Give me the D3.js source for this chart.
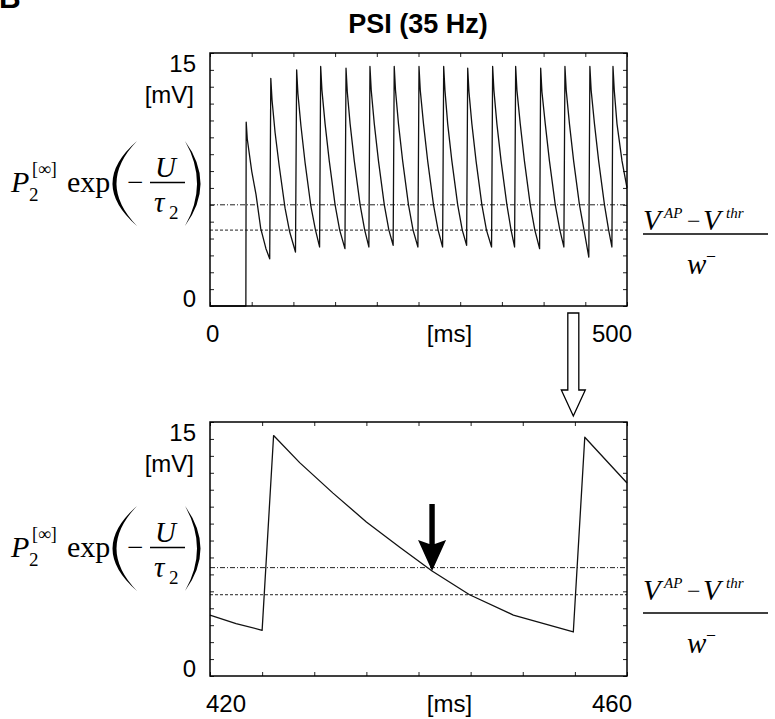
<!DOCTYPE html>
<html>
<head>
<meta charset="utf-8">
<script src="https://cdn.jsdelivr.net/npm/d3@7"></script>
<style>
  body { margin: 0; background: #fff; }
  svg { display: block; }
</style>
</head>
<body>
<svg id="chart"></svg>
<script>
// Membrane trace, top panel (t in ms, value in mV)
const topTrace = [
  [0, 0], [43.0, 0],
  [43.4, 10.9], [44.7, 9.9], [50.0, 8.0], [55.2, 6.6], [60.8, 4.6], [67.1, 3.4], [71.6, 2.8],
  [72.9, 13.5], [74.4, 12.2], [78, 10.3], [83, 8.3], [90, 5.8], [95.5, 4.4], [102.5, 3.2],
  [103.9, 14.0], [105.4, 12.6], [109, 10.7], [114, 8.5], [121, 5.9], [126.5, 4.5], [131.4, 3.5],
  [132.7, 14.2], [134.2, 12.8], [138, 10.8], [143, 8.6], [150, 6.0], [155.5, 4.5], [161.8, 3.4],
  [163.1, 14.1], [164.6, 12.7], [168, 10.8], [173, 8.6], [180, 6.0], [185.5, 4.5], [190.5, 3.5],
  [191.8, 14.2], [193.3, 12.8], [197, 10.8], [202, 8.6], [209, 6.0], [214.5, 4.5], [219.6, 3.6],
  [220.9, 14.2], [222.4, 12.8], [226, 10.8], [231, 8.6], [238, 6.0], [243.5, 4.5], [249.3, 3.5],
  [250.6, 14.2], [252.1, 12.8], [256, 10.8], [261, 8.6], [268, 6.0], [273.5, 4.5], [278.9, 3.5],
  [280.2, 14.2], [281.7, 12.8], [285, 10.8], [290, 8.6], [297, 6.0], [302.5, 4.5], [307.7, 3.6],
  [309.0, 14.1], [310.5, 12.7], [314, 10.8], [319, 8.6], [326, 6.0], [331.5, 4.5], [337.6, 3.5],
  [338.9, 14.2], [340.4, 12.8], [344, 10.8], [349, 8.6], [356, 6.0], [361, 4.5], [365.2, 3.5],
  [366.5, 14.2], [368, 12.8], [372, 10.8], [377, 8.6], [384, 6.0], [389.5, 4.5], [395.2, 3.4],
  [396.5, 14.1], [398, 12.7], [402, 10.8], [407, 8.6], [414, 6.0], [419.5, 4.5], [424.3, 3.5],
  [425.6, 14.2], [427.1, 12.8], [431, 10.8], [436, 8.6], [443, 6.0], [448.5, 4.5], [454.2, 2.9],
  [455.5, 14.2], [457, 12.8], [461, 10.8], [466, 8.6], [473, 6.0], [478, 4.5], [481.9, 3.5],
  [483.2, 14.2], [484.7, 12.8], [488, 10.8], [494, 8.6], [500, 7.0]
];

// Zoomed trace, bottom panel
const bottomTrace = [
  [420, 3.6], [422.5, 3.1], [425.0, 2.7], [426.1, 14.2], [428.6, 12.6], [431.8, 10.8],
  [435.0, 9.1], [438.2, 7.6], [441.3, 6.2], [444.9, 4.8], [449.1, 3.6],
  [454.85, 2.6], [455.95, 14.1], [460, 11.4]
];

// Horizontal reference levels [upper (dash-dot), lower (dashed)]
const topLevels = [6.0, 4.5];
const bottomLevels = [6.4, 4.8];

const topXDomain = [0, 500];
const bottomXDomain = [420, 460];
const yDomain = [0, 15];

const topXLabels = ["0", "[ms]", "500"];
const bottomXLabels = ["420", "[ms]", "460"];
const yLabels = ["15", "[mV]", "0"];

// where the arrows point
const crossingPoint = [441.3, 6.2];   // black arrow, bottom panel
const zoomSpikeTime = 454.85;         // open arrow between panels

const W = 775, H = 719;
const sans = "'Liberation Sans', Arial, Helvetica, sans-serif";
const serif = "'Liberation Serif', 'Times New Roman', serif";

const svg = d3.select("#chart").attr("width", W).attr("height", H);

// panel letter (cut off at the top) and title
svg.append("text").attr("x", -1).attr("y", 8)
  .style("font-family", sans).style("font-weight", "bold").style("font-size", "30px")
  .text("B");
svg.append("text").attr("x", 418).attr("y", 33).attr("text-anchor", "middle")
  .style("font-family", sans).style("font-weight", "bold").style("font-size", "27px")
  .text("PSI (35 Hz)");

function panel(box, xDomain, trace, levels, xLabels) {
  const w = box.x1 - box.x0, h = box.y1 - box.y0;
  const g = svg.append("g").attr("transform", `translate(${box.x0},${box.y0})`);
  const x = d3.scaleLinear().domain(xDomain).range([0, w]);
  const y = d3.scaleLinear().domain(yDomain).range([h, 0]);
  const nx = xDomain[1] - xDomain[0] > 100 ? 10 : 8;

  // inward ticks on all four sides
  const axes = [
    [d3.axisBottom(x).ticks(nx), `translate(0,${h})`],
    [d3.axisTop(x).ticks(nx), null],
    [d3.axisLeft(y).ticks(15), null],
    [d3.axisRight(y).ticks(15), `translate(${w},0)`]
  ];
  axes.forEach(([ax, tr]) => {
    const a = g.append("g").call(ax.tickSize(-4).tickFormat(""));
    if (tr) a.attr("transform", tr);
    a.select(".domain").remove();
    a.selectAll("line").attr("stroke", "#222").attr("stroke-width", 1);
  });

  // reference levels
  const dashes = ["5,2,1,2", "3,2"];
  levels.forEach((v, i) => {
    g.append("line")
      .attr("x1", 0).attr("x2", w)
      .attr("y1", y(v)).attr("y2", y(v))
      .attr("stroke", "#222").attr("stroke-width", 1)
      .attr("stroke-dasharray", dashes[i]);
  });

  const line = d3.line().x(d => x(d[0])).y(d => y(d[1]));
  g.append("path").datum(trace)
    .attr("fill", "none").attr("stroke", "#111")
    .attr("stroke-width", 1.3).attr("stroke-linejoin", "round")
    .attr("d", line);

  g.append("rect").attr("width", w).attr("height", h)
    .attr("fill", "none").attr("stroke", "#000").attr("stroke-width", 1.5);

  // tick labels
  const lab = (tx, ty, anchor, s) => g.append("text")
    .attr("x", tx).attr("y", ty).attr("text-anchor", anchor)
    .style("font-family", sans).style("font-size", "24px").text(s);
  lab(-14, y(15) + 19, "end", yLabels[0]);
  lab(-16, y(15) + 50, "end", yLabels[1]);
  lab(-14, y(0) + 1, "end", yLabels[2]);
  lab(-4, h + 36, "start", xLabels[0]);
  lab(w / 2 + 31, h + 36, "middle", xLabels[1]);
  lab(w + 5, h + 36, "end", xLabels[2]);

  return { x, y, g };
}

function leftMath(dy) {
  const m = svg.append("g").attr("transform", `translate(0,${dy})`)
    .style("font-family", serif);
  m.append("text").attr("x", 11).attr("y", 192).style("font-size", "30px")
    .style("font-style", "italic").text("P");
  m.append("text").attr("x", 29).attr("y", 201).style("font-size", "19px").text("2");
  m.append("text").attr("x", 32).attr("y", 175).style("font-size", "18px").text("[∞]");
  m.append("text").attr("x", 67).attr("y", 192).style("font-size", "30px").text("exp");
  m.append("path").attr("d", "M137,141 Q88,183.5 137,226 Q96,183.5 137,141 Z");
  m.append("path").attr("d", "M185,141 Q216,183.5 185,226 Q209,183.5 185,141 Z");
  m.append("text").attr("x", 127).attr("y", 192).style("font-size", "29px").text("−");
  m.append("line").attr("x1", 150).attr("x2", 185).attr("y1", 182.5).attr("y2", 182.5)
    .attr("stroke", "#000").attr("stroke-width", 1.5);
  m.append("text").attr("x", 155).attr("y", 177).style("font-size", "29px")
    .style("font-style", "italic").text("U");
  m.append("text").attr("x", 154).attr("y", 212).style("font-size", "29px")
    .style("font-style", "italic").text("τ");
  m.append("text").attr("x", 169).attr("y", 219).style("font-size", "19px").text("2");
}

function rightMath(bar, numDy) {
  const m = svg.append("g").style("font-family", serif).style("font-style", "italic");
  const vb = bar - numDy;
  m.append("text").attr("x", 643).attr("y", vb).style("font-size", "29px").text("V");
  m.append("text").attr("x", 664).attr("y", vb - 12).style("font-size", "15px").text("AP");
  m.append("text").attr("x", 687).attr("y", vb - 1).style("font-size", "24px")
    .style("font-style", "normal").text("−");
  m.append("text").attr("x", 703).attr("y", vb).style("font-size", "29px").text("V");
  m.append("text").attr("x", 726).attr("y", vb - 12).style("font-size", "15px").text("thr");
  m.append("line").attr("x1", 643).attr("x2", 768).attr("y1", bar).attr("y2", bar)
    .attr("stroke", "#000").attr("stroke-width", 1.5);
  m.append("text").attr("x", 687).attr("y", bar + 40).style("font-size", "29px").text("w");
  m.append("text").attr("x", 707).attr("y", bar + 26).style("font-size", "16px")
    .style("font-style", "normal").text("–");
}

const topPanel = panel({ x0: 210, x1: 627, y0: 53, y1: 306 }, topXDomain, topTrace, topLevels, topXLabels);
const bottomPanel = panel({ x0: 210, x1: 627, y0: 422, y1: 676 }, bottomXDomain, bottomTrace, bottomLevels, bottomXLabels);

leftMath(0);
leftMath(365);
rightMath(234, 4);
rightMath(613, 13);

// open arrow from top panel down to the zoomed spike
const ax = 210 + bottomPanel.x(zoomSpikeTime);
const aTop = 306 + 7, aBase = 390, aTip = 422 - 6;
svg.append("path")
  .attr("d", `M${ax - 5.5},${aTop} H${ax + 5.5} V${aBase} H${ax + 12} L${ax},${aTip} L${ax - 12},${aBase} H${ax - 5.5} Z`)
  .attr("fill", "#fff").attr("stroke", "#000").attr("stroke-width", 1.3);

// black arrow pointing at the threshold crossing
const bx = 210 + bottomPanel.x(crossingPoint[0]);
const by = 422 + bottomPanel.y(crossingPoint[1]);
svg.append("path")
  .attr("d", `M${bx - 2.7},${by - 67} H${bx + 2.7} V${by - 27} L${bx + 14},${by - 31} L${bx},${by} L${bx - 14},${by - 31} L${bx - 2.7},${by - 27} Z`)
  .attr("fill", "#000");
</script>
</body>
</html>
